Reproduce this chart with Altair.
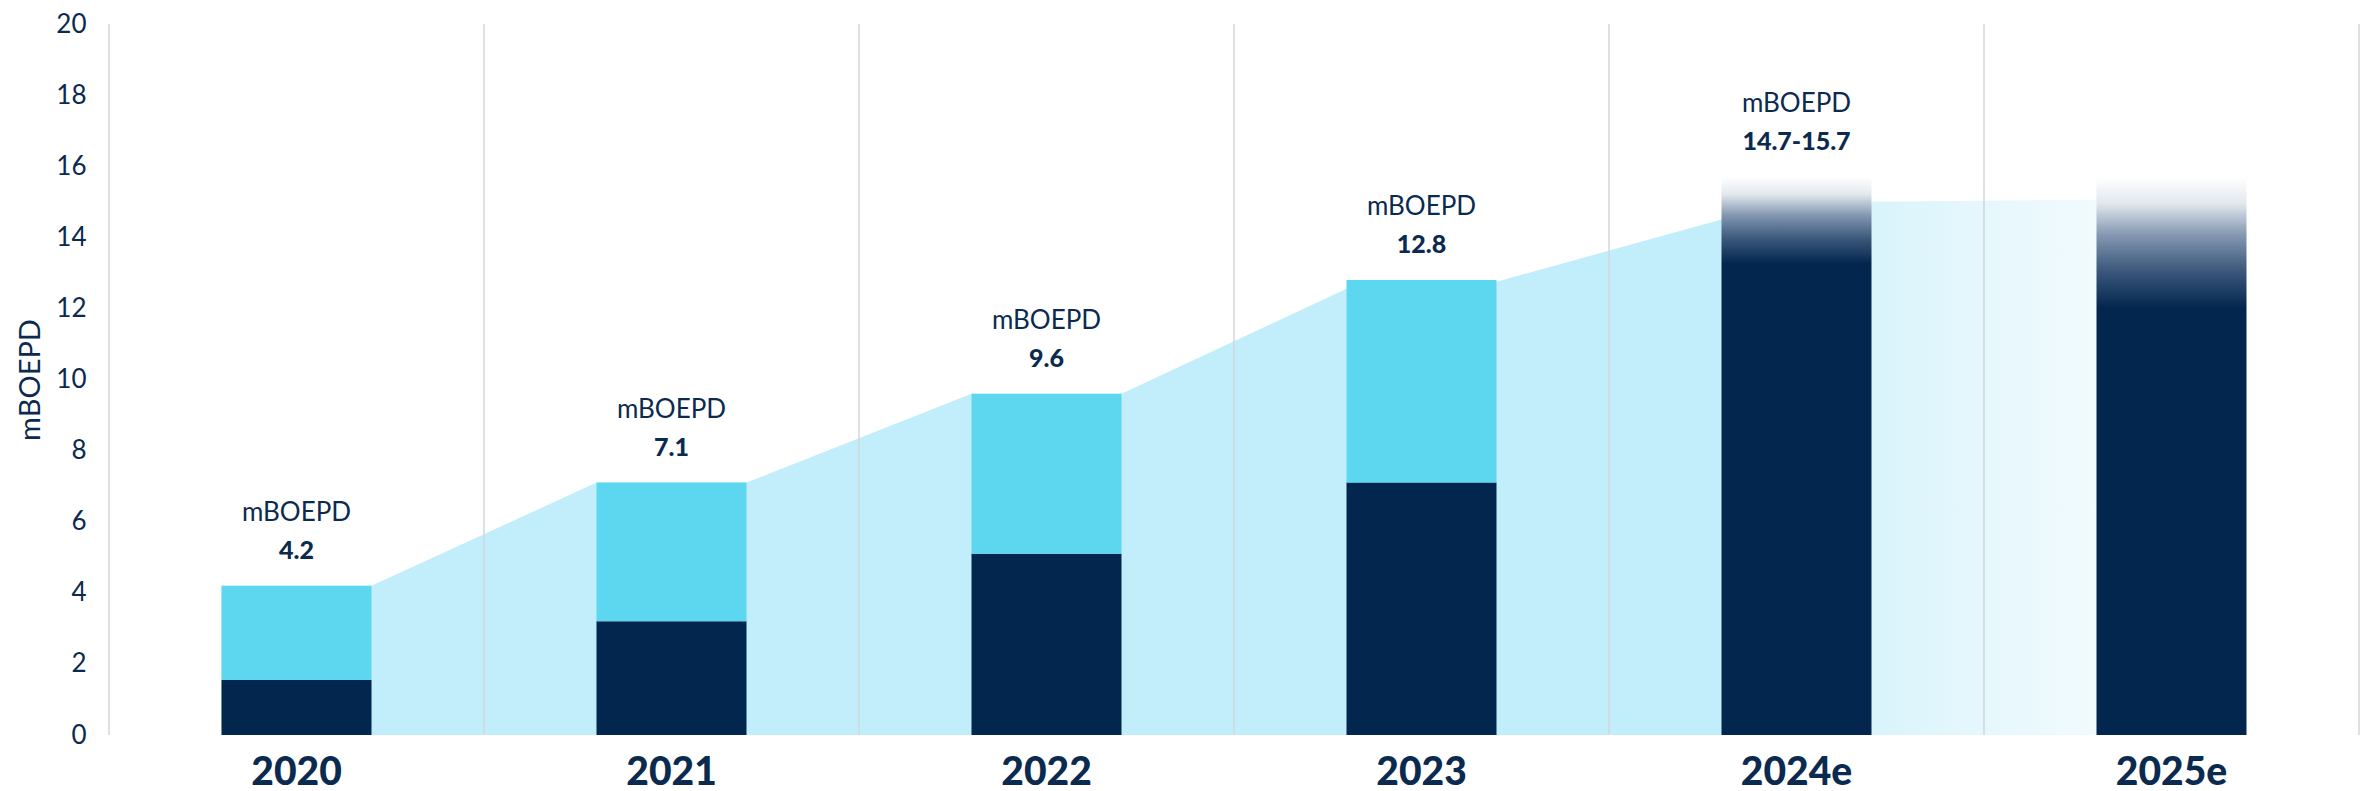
import altair as alt
import pandas as pd

# ---------------- data ----------------
years = ["2020", "2021", "2022", "2023", "2024e", "2025e"]
actual_years = ["2020", "2021", "2022", "2023"]
base_vals = [1.55, 3.2, 5.1, 7.1]          # dark navy segment
top_vals = [2.65, 3.9, 4.5, 5.7]           # light cyan segment
est_years = ["2024e", "2025e"]
est_high = [15.7, 15.7]                    # estimate bar (top of fade)
label_years = ["2020", "2021", "2022", "2023", "2024e"]
label_texts = ["4.2", "7.1", "9.6", "12.8", "14.7-15.7"]
label_anchor = [4.2, 7.1, 9.6, 12.8, 15.7]
area_left = [4.2, 7.1, 9.6, 12.55, 14.5]   # background band height at left edge of each bar
area_right = [4.2, 7.1, 9.6, 12.75, 15.0]  # ... and at the right edge
fade_vals = [15.0, 15.1]                   # faded estimate band 2024e -> 2025e

# ---------------- styling ----------------
NAVY = "#03264f"
CYAN = "#5dd7f0"
AREA = "#c1eefa"
GRID = "#d2d6dc"
TEXT = "#0b2a4f"
FONT = "Lato"
P_IN, P_OUT = 0.6, 0.3          # band padding -> bar spans [i+0.3, i+0.7] of each band
BAR_L, BAR_R = P_OUT, 1 - P_OUT

# ---------------- tables ----------------
stack_rows = []
for y, b, t in zip(actual_years, base_vals, top_vals):
    stack_rows.append({"year": y, "seg": "a_base", "value": b, "ord": 0})
    stack_rows.append({"year": y, "seg": "b_top", "value": t, "ord": 1})
stack_df = pd.DataFrame(stack_rows)

est_df = pd.DataFrame({"year": est_years, "value": est_high})

area_rows = []
for i, (l, r) in enumerate(zip(area_left, area_right)):
    area_rows.append({"gx": i + BAR_L, "gy": l})
    area_rows.append({"gx": i + BAR_R, "gy": r})
area_df = pd.DataFrame(area_rows)

i24, i25 = years.index("2024e"), years.index("2025e")
fade_df = pd.DataFrame({"gx": [i24 + BAR_R, i25 + BAR_R + 0.05], "gy": fade_vals})

grid_df = pd.DataFrame({"gx": list(range(len(years) + 1))})

lab_df = pd.DataFrame({"year": label_years, "txt": label_texts, "anchor": label_anchor})

# ---------------- scales / axes ----------------
band_scale = alt.Scale(domain=years, paddingInner=P_IN, paddingOuter=P_OUT)
band_axis = alt.Axis(title=None, orient="bottom", labelFontSize=39, labelFontWeight=900,
                     labelColor=TEXT, labelFont=FONT, ticks=False, domain=False,
                     labelPadding=18, labelAngle=0, grid=False)
x_main = alt.X("year:N", sort=years, scale=band_scale, axis=band_axis)
x_band = alt.X("year:N", sort=years, scale=band_scale, axis=None)

yscale = alt.Scale(domain=[0, 20], nice=False, zero=True)
yaxis = alt.Axis(values=list(range(0, 21, 2)), title="mBOEPD", titleFontSize=29,
                 titleFontWeight="normal", titleColor=TEXT, titleFont=FONT, titlePadding=10,
                 labelFontSize=26, labelColor=TEXT, labelFont=FONT, labelPadding=23,
                 ticks=False, domain=False, grid=False)
xq = alt.Scale(domain=[0, len(years)], nice=False, zero=False)


def Y(field, **kw):
    return alt.Y(field, scale=yscale, axis=yaxis, **kw)


def grad_v(frac):
    ramp = [(0.0, "#ffffff"), (0.2, "#e3e8ee"), (0.45, "#8196b0"), (0.7, "#3f5b7e"), (1.0, NAVY)]
    stops = [alt.GradientStop(color=c, offset=r * frac) for r, c in ramp]
    stops.append(alt.GradientStop(color=NAVY, offset=1))
    return alt.LinearGradient(gradient="linear", stops=stops, x1=0, x2=0, y1=0, y2=1)


# ---------------- layers ----------------
area = alt.Chart(area_df).mark_area(color=AREA, interpolate="linear").encode(
    x=alt.X("gx:Q", scale=xq, axis=None),
    y=Y("gy:Q"),
)

fade = alt.Chart(fade_df).mark_area(
    interpolate="linear",
    color=alt.LinearGradient(gradient="linear", x1=0, x2=1, y1=0, y2=0, stops=[
        alt.GradientStop(color="#d9f4fb", offset=0),
        alt.GradientStop(color="#f3fbfe", offset=0.6),
        alt.GradientStop(color="#ffffff", offset=1),
    ]),
).encode(
    x=alt.X("gx:Q", scale=xq, axis=None),
    y=Y("gy:Q"),
)

grid = alt.Chart(grid_df).mark_rule(color=GRID, strokeWidth=1.5).encode(
    x=alt.X("gx:Q", scale=xq, axis=None),
)

bars = alt.Chart(stack_df).mark_bar().encode(
    x=x_main,
    y=Y("value:Q", stack="zero"),
    color=alt.Color("seg:N", scale=alt.Scale(domain=["a_base", "b_top"], range=[NAVY, CYAN]),
                    legend=None),
    order=alt.Order("ord:Q"),
)

est24 = alt.Chart(est_df).transform_filter(alt.datum.year == "2024e").mark_bar(
    color=grad_v(0.155)).encode(x=x_band, y=Y("value:Q"))
est25 = alt.Chart(est_df).transform_filter(alt.datum.year == "2025e").mark_bar(
    color=grad_v(0.235)).encode(x=x_band, y=Y("value:Q"))

val_txt = alt.Chart(lab_df).mark_text(font=FONT, fontSize=25, fontWeight=900, color=TEXT,
                                      baseline="middle", dy=-35).encode(
    x=x_band, y=Y("anchor:Q"), text="txt:N")
unit_txt = alt.Chart(lab_df).mark_text(font=FONT, fontSize=26, color=TEXT,
                                       baseline="middle", dy=-73).encode(
    x=x_band, y=Y("anchor:Q"), text=alt.value("mBOEPD"))

chart = alt.layer(area, fade, grid, bars, est24, est25, val_txt, unit_txt).resolve_scale(
    x="independent"
).properties(
    width=2250, height=711,
    autosize=alt.AutoSizeParams(type="none"),
    padding={"left": 101, "top": 16, "right": 4, "bottom": 58},
    background="white",
).configure_view(stroke=None).configure_axis(
    titleFontSize=29, titleFont=FONT, titleColor=TEXT, titleFontWeight="normal"
)

chart.save("out.html", embed_options={"renderer": "svg", "actions": False})
